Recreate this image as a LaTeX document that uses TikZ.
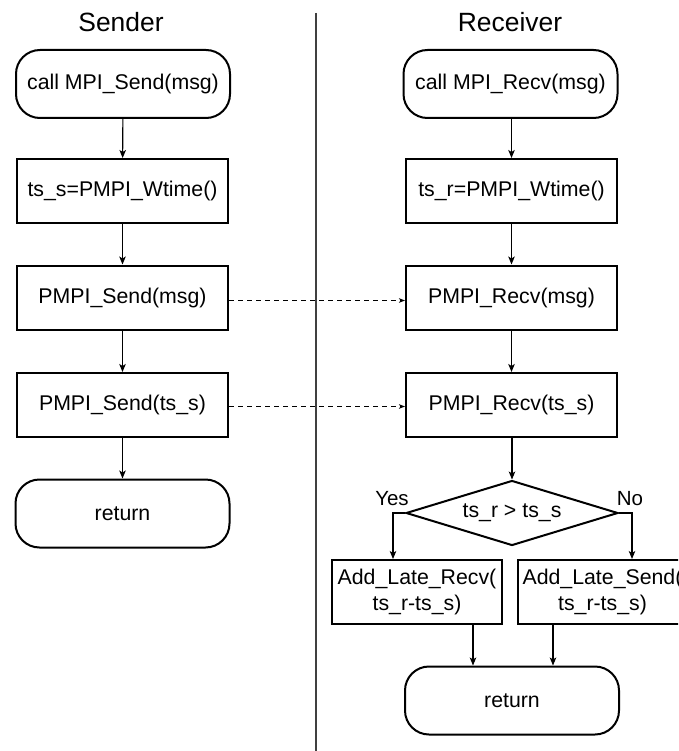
\documentclass[tikz,border=0pt]{standalone}
\usepackage{fontspec}
\setmainfont{Liberation Sans}
\usetikzlibrary{arrows.meta,shapes.geometric,calc}

\begin{document}
\begin{tikzpicture}[x=1pt,y=-1pt,
  base/.style={draw, line width=2pt, inner sep=0pt, align=center,
    font=\fontsize{21.3}{26}\selectfont},
  proc/.style={base, minimum width=211pt, minimum height=64pt},
  term/.style={base, rounded corners=24pt, minimum width=214pt, minimum height=68pt},
  late/.style={base, minimum width=170pt, minimum height=64pt},
  decide/.style={base, diamond, shape aspect=3.26, minimum width=212pt, minimum height=65pt},
  heading/.style={font=\fontsize{26.4}{30}\selectfont, inner sep=0pt},
  tag/.style={font=\fontsize{20.5}{24}\selectfont, inner sep=0pt},
  flow/.style={line width=1.1pt, -{Stealth[length=8pt,width=6.5pt,inset=2pt]}},
  msg/.style={line width=1.1pt, dash pattern=on 5pt off 4pt,
    -{Stealth[length=6pt,width=4.5pt,inset=1.5pt]}},
]
\useasboundingbox (0,0) rectangle (678,751);
\clip (0,0) rectangle (678,751);

% column headings and divider
\node[heading] (hs) at (121,22) {Sender};
\node[heading] (hr) at (510,22) {Receiver};
\coordinate (dtop) at (316,13);
\coordinate (dbot) at (316,751);
\draw[line width=1.2pt, black!75] (dtop) -- (dbot);

% sender side
\node[term] (s1) at (123,84)    {call MPI\_Send(msg)};
\node[proc] (s2) at (122.5,191) {ts\_s=PMPI\_Wtime()};
\node[proc] (s3) at (122.5,297.5) {PMPI\_Send(msg)};
\node[proc] (s4) at (122.5,405) {PMPI\_Send(ts\_s)};
\node[term] (s5) at (122.5,513.5) {return};

% receiver side
\node[term] (r1) at (510.5,84)  {call MPI\_Recv(msg)};
\node[proc] (r2) at (511.5,191) {ts\_r=PMPI\_Wtime()};
\node[proc] (r3) at (511.5,297.5) {PMPI\_Recv(msg)};
\node[proc] (r4) at (511.5,405) {PMPI\_Recv(ts\_s)};
\node[decide] (dc) at (512,513) {ts\_r > ts\_s};
\node[late] (lr) at (417,592)   {Add\_Late\_Recv(\\ts\_r-ts\_s)};
\node[late] (ls) at (602.5,592) {Add\_Late\_Send(\\ts\_r-ts\_s)};
\node[term] (r5) at (512,700.5) {return};

\node[tag] (yes) at (392,499) {Yes};
\node[tag] (no)  at (630,499) {No};

% sender flow
\draw[flow] (s1) -- (s2);
\draw[flow] (s2) -- (s3);
\draw[flow] (s3) -- (s4);
\draw[flow] (s4) -- (s5);

% receiver flow
\draw[flow] (r1.south -| r2.north) -- (r2);
\draw[flow] (r2) -- (r3);
\draw[flow] (r3) -- (r4);
\draw[flow] (r4.south -| dc.north) -- (dc.north);

% branches
\coordinate (yturn) at (393,513);
\coordinate (nturn) at (632,513);
\draw[flow] (dc.west) -- (yturn) -- (yturn |- lr.north);
\draw[flow] (dc.east) -- (nturn) -- (nturn |- ls.north);
\coordinate (lrout) at ($(lr.south)+(56,0)$);
\coordinate (lsout) at ($(ls.south)+(-49.5,0)$);
\draw[flow] (lrout) -- (lrout |- r5.north);
\draw[flow] (lsout) -- (lsout |- r5.north);

% messages between the processes
\draw[msg] ($(s3.east)+(0,3)$) -- ($(r3.west)+(0,3)$);
\draw[msg] ($(s4.east)+(0,1.5)$) -- ($(r4.west)+(0,1.5)$);
\end{tikzpicture}
\end{document}
